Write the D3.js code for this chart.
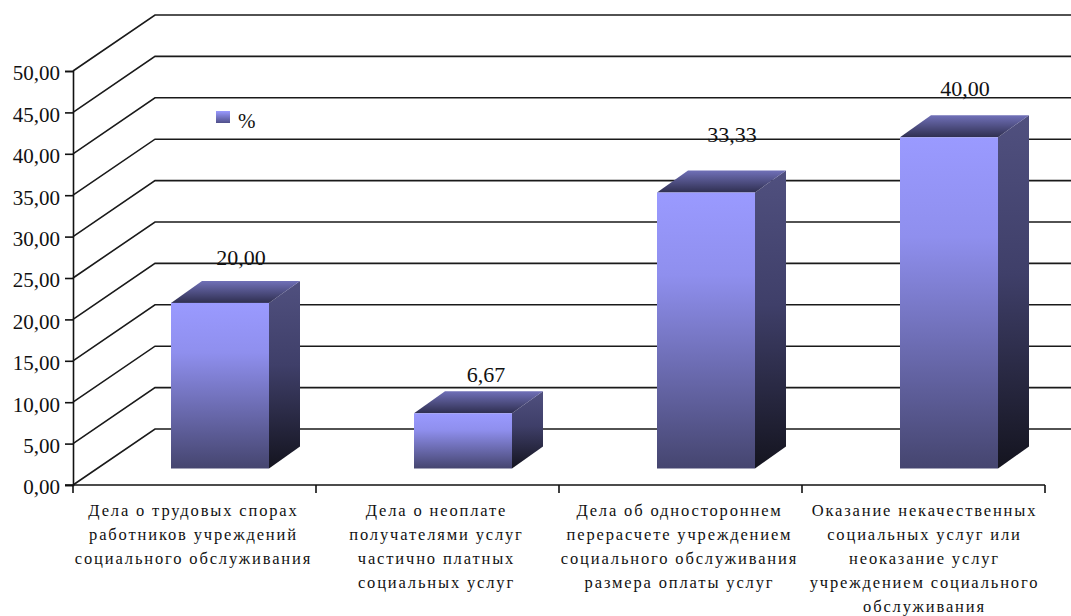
<!DOCTYPE html>
<html><head><meta charset="utf-8">
<script src="https://cdn.jsdelivr.net/npm/d3@7"></script>
<style>html,body{margin:0;background:#fff}svg{display:block}text{font-family:"Liberation Serif",serif;fill:#111}</style>
</head><body><svg id="c" width="1071" height="616"></svg>
<script>
const categories = [
  ["Дела о трудовых спорах","работников учреждений","социального обслуживания"],
  ["Дела о неоплате","получателями услуг","частично платных","социальных услуг"],
  ["Дела об одностороннем","перерасчете учреждением","социального обслуживания","размера оплаты услуг"],
  ["Оказание некачественных","социальных услуг или","неоказание услуг","учреждением социального","обслуживания"]
];
const values = [20.00, 6.67, 33.33, 40.00];
const valueLabels = ["20,00","6,67","33,33","40,00"];
const yTicks = [0,5,10,15,20,25,30,35,40,45,50];
const seriesName = "%";

const L=73,R=1045,Y0=485,Y1=71,DX=82,DY=-56;
const svg=d3.select("#c");
const x=d3.scaleBand().domain(d3.range(4)).range([L,R]);
const y=d3.scaleLinear().domain([0,50]).range([Y0,Y1]);
const fmt=v=>v.toFixed(2).replace(".",",");

const defs=svg.append("defs");
function grad(id,stops){
  const g=defs.append("linearGradient").attr("id",id).attr("x1",0).attr("y1",0).attr("x2",0).attr("y2",1);
  stops.forEach(([o,c])=>g.append("stop").attr("offset",o).attr("stop-color",c));
}
grad("front",[[0,"#9a9aff"],[0.3,"#8f8fee"],[1,"#45456f"]]);
grad("side",[[0,"#50507f"],[0.45,"#3f3f69"],[1,"#14141f"]]);
grad("top",[[0,"#7070b8"],[1,"#2f2f50"]]);
grad("sw",[[0,"#9a9aff"],[1,"#50508a"]]);

// gridlines: left wall and back wall
svg.append("g").selectAll("path").data(yTicks).join("path")
  .attr("fill","none").attr("stroke","#1a1a1a").attr("stroke-width",1.6)
  .attr("d",t=>`M${L},${y(t)}L${L+DX},${y(t)+DY}L1071,${y(t)+DY}`);

// axes
const gy=svg.append("g").attr("transform",`translate(${L},0)`)
  .call(d3.axisLeft(y).tickValues(yTicks).tickSize(8).tickFormat(fmt));
gy.selectAll("text").attr("x",-13).attr("dy","0.42em").style("font-size","21px").attr("font-family",null);
const gx=svg.append("g").attr("transform",`translate(0,${Y0})`);
gx.append("line").attr("x1",L-8).attr("x2",R).attr("stroke","#111").attr("stroke-width",1.7);
gx.selectAll("line.t").data(d3.range(5)).join("line").attr("class","t")
  .attr("x1",i=>L+i*x.bandwidth()).attr("x2",i=>L+i*x.bandwidth())
  .attr("y1",0).attr("y2",8).attr("stroke","#111").attr("stroke-width",1.6);
gy.selectAll("path,line").attr("stroke","#111").attr("stroke-width",1.6);

// bars
const barW=98, frontDX=25.5, frontDY=-16.5, depthX=31, depthY=-22;
const barX=i=>x(i)+x.bandwidth()/2-barW/2+frontDX;
const g=svg.append("g").selectAll("g").data(values).join("g");
const base=frontDY;
g.append("path").attr("fill","url(#side)")
  .attr("d",(v,i)=>{const a=barX(i)+barW,t=y(v)+base,b=y(0)+base;
    return `M${a},${t}L${a+depthX},${t+depthY}L${a+depthX},${b+depthY}L${a},${b}Z`;});
g.append("path").attr("fill","url(#top)")
  .attr("d",(v,i)=>{const a=barX(i),t=y(v)+base;
    return `M${a},${t}L${a+depthX},${t+depthY}L${a+barW+depthX},${t+depthY}L${a+barW},${t}Z`;});
g.append("rect").attr("fill","url(#front)")
  .attr("x",(v,i)=>barX(i)).attr("width",barW)
  .attr("y",v=>y(v)+base).attr("height",v=>y(0)-y(v));

// value labels
const labelShift=[[21,-38],[23,-31],[26,-51],[16,-41]];
svg.append("g").selectAll("text").data(values).join("text")
  .attr("text-anchor","middle").style("font-size","22px")
  .attr("x",(v,i)=>barX(i)+barW/2+labelShift[i][0])
  .attr("y",(v,i)=>y(v)+base+labelShift[i][1])
  .text((v,i)=>valueLabels[i]);

// category labels
const cat=svg.append("g").selectAll("text").data(categories).join("text")
  .attr("text-anchor","middle").style("font-size","16.5px").style("letter-spacing","1.85px");
cat.each(function(lines,i){
  d3.select(this).selectAll("tspan").data(lines).join("tspan")
    .attr("x",x(i)+x.bandwidth()/2-(i==3?-1:1))
    .attr("y",(d,j)=>Y0+31+j*23.9).text(d=>d);
});

// legend
svg.append("rect").attr("x",216).attr("y",111).attr("width",14).attr("height",12).attr("fill","url(#sw)");
svg.append("text").attr("x",238).attr("y",128).style("font-size","21px").text(seriesName);
</script></body></html>
